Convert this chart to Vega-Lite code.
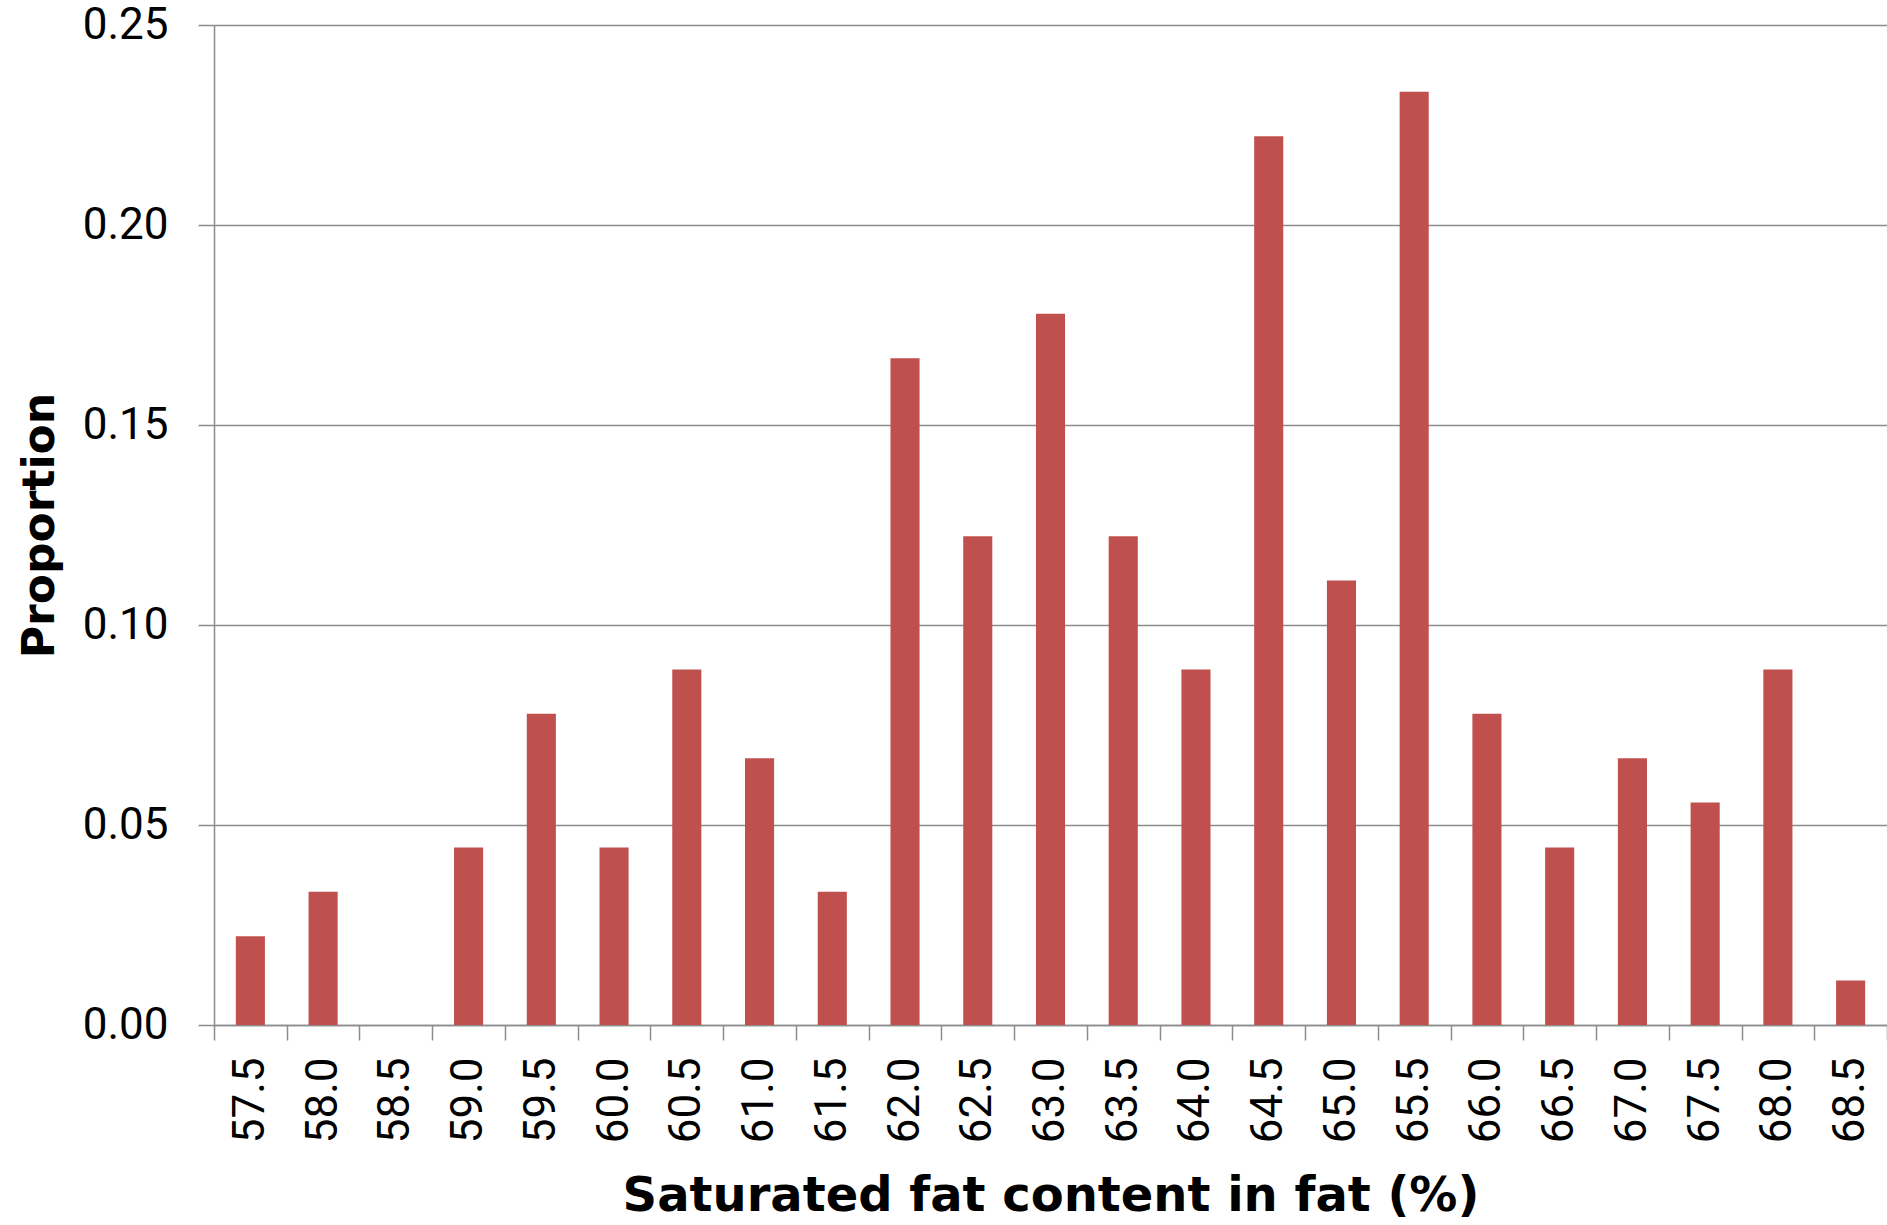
{
  "$schema": "https://vega.github.io/schema/vega-lite/v6.json",
  "autosize": {"type": "none"},
  "padding": {"left": 214, "top": 25, "right": 0, "bottom": 200},
  "width": 1673,
  "height": 1000,
  "background": "white",
  "config": {
    "view": {"stroke": null},
    "axis": {
      "labelFont": "Roboto",
      "labelFontSize": 44,
      "labelColor": "black",
      "titleColor": "black",
      "titleFont": "DejaVu Sans",
      "titleFontWeight": "bold",
      "domainColor": "#8c8c8c",
      "domainWidth": 1.5,
      "tickColor": "#8c8c8c",
      "tickWidth": 1.5,
      "gridColor": "#8c8c8c",
      "gridWidth": 1.5
    }
  },
  "data": {
    "values": [
      {"fat": "57.5", "proportion": 0.0222},
      {"fat": "58.0", "proportion": 0.0333},
      {"fat": "58.5", "proportion": 0},
      {"fat": "59.0", "proportion": 0.0444},
      {"fat": "59.5", "proportion": 0.0778},
      {"fat": "60.0", "proportion": 0.0444},
      {"fat": "60.5", "proportion": 0.0889},
      {"fat": "61.0", "proportion": 0.0667},
      {"fat": "61.5", "proportion": 0.0333},
      {"fat": "62.0", "proportion": 0.1667},
      {"fat": "62.5", "proportion": 0.1222},
      {"fat": "63.0", "proportion": 0.1778},
      {"fat": "63.5", "proportion": 0.1222},
      {"fat": "64.0", "proportion": 0.0889},
      {"fat": "64.5", "proportion": 0.2222},
      {"fat": "65.0", "proportion": 0.1111},
      {"fat": "65.5", "proportion": 0.2333},
      {"fat": "66.0", "proportion": 0.0778},
      {"fat": "66.5", "proportion": 0.0444},
      {"fat": "67.0", "proportion": 0.0667},
      {"fat": "67.5", "proportion": 0.0556},
      {"fat": "68.0", "proportion": 0.0889},
      {"fat": "68.5", "proportion": 0.0111}
    ]
  },
  "mark": {"type": "bar", "color": "#C0504D", "width": {"band": 0.4}},
  "encoding": {
    "x": {
      "field": "fat",
      "type": "ordinal",
      "sort": null,
      "scale": {"type": "band", "paddingInner": 0, "paddingOuter": 0},
      "axis": {
        "title": "Saturated fat content in fat (%)",
        "titleFontSize": 48,
        "titlePadding": 30,
        "labelAngle": -90,
        "labelPadding": 17,
        "labelOverlap": false,
        "tickBand": "extent",
        "tickSize": 15,
        "grid": false
      }
    },
    "y": {
      "field": "proportion",
      "type": "quantitative",
      "scale": {"domain": [0, 0.25], "nice": false},
      "axis": {
        "title": "Proportion",
        "titleFontSize": 44,
        "titlePadding": 20,
        "values": [0, 0.05, 0.1, 0.15, 0.2, 0.25],
        "format": ".2f",
        "tickSize": 16,
        "labelPadding": 30,
        "grid": true
      }
    }
  }
}
